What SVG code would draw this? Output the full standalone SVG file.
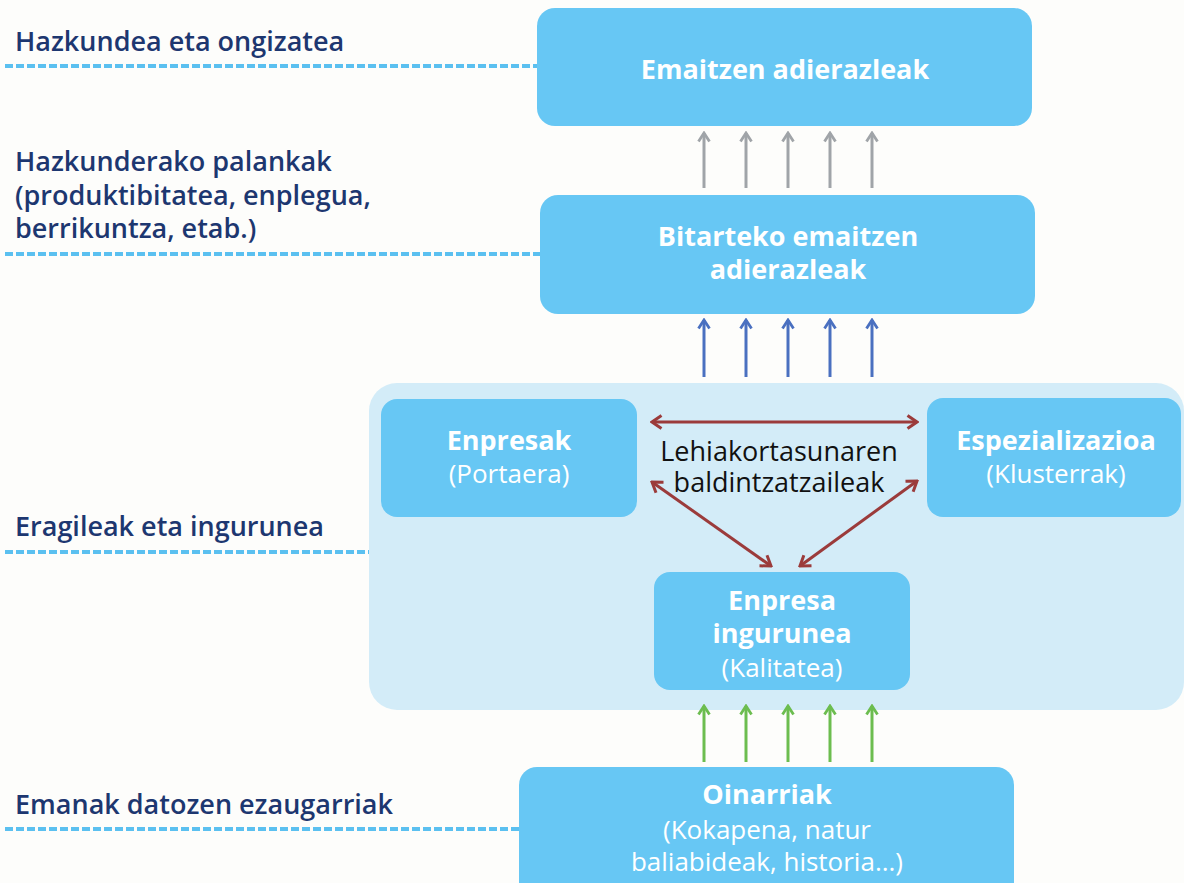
<svg xmlns="http://www.w3.org/2000/svg" width="1184" height="883" viewBox="0 0 1184 883">
<defs>
<style>
.box{fill:#67C7F4}
.bg{fill:#D3ECF8}
.lbl{font-family:"Open Sans","Noto Sans",sans-serif;font-weight:600;font-size:27px;fill:#1D3770}
.dash{stroke:#5BC0F0;stroke-width:4;stroke-dasharray:8 3;fill:none}
.bt{font-family:"Open Sans","Noto Sans",sans-serif;font-weight:700;font-size:27px;fill:#FFFFFF;text-anchor:middle}
.nt{font-family:"Open Sans","Noto Sans",sans-serif;font-weight:400;font-size:26px;fill:#FFFFFF;text-anchor:middle}
.ct{font-family:"Open Sans","Noto Sans",sans-serif;font-size:27px;fill:#111;text-anchor:middle}
.ga{stroke:#A0A4A8;stroke-width:3;fill:none}
.ba{stroke:#4A70C0;stroke-width:3;fill:none}
.gr{stroke:#6CBD4F;stroke-width:3;fill:none}
.ra{stroke:#9B3B3B;stroke-width:3;fill:none}
</style>
<marker id="hg" viewBox="0 0 14 14" refX="12" refY="7" markerWidth="14" markerHeight="14" markerUnits="userSpaceOnUse" orient="auto-start-reverse"><path d="M3.5,1.5 L12,7 L3.5,12.5" fill="none" stroke="#A0A4A8" stroke-width="2.8"/></marker>
<marker id="hb" viewBox="0 0 14 14" refX="12" refY="7" markerWidth="14" markerHeight="14" markerUnits="userSpaceOnUse" orient="auto-start-reverse"><path d="M3.5,1.5 L12,7 L3.5,12.5" fill="none" stroke="#4A70C0" stroke-width="2.8"/></marker>
<marker id="hgr" viewBox="0 0 14 14" refX="12" refY="7" markerWidth="14" markerHeight="14" markerUnits="userSpaceOnUse" orient="auto-start-reverse"><path d="M3.5,1.5 L12,7 L3.5,12.5" fill="none" stroke="#6CBD4F" stroke-width="2.8"/></marker>
<marker id="hr" viewBox="0 0 16 16" refX="14" refY="8" markerWidth="16" markerHeight="16" markerUnits="userSpaceOnUse" orient="auto-start-reverse"><path d="M4.5,1.5 L14,8 L4.5,14.5" fill="none" stroke="#9B3B3B" stroke-width="3"/></marker>
</defs>
<rect width="1184" height="883" fill="#FDFDFB"/>

<g id="levels">
<text class="lbl" x="15" y="51">Hazkundea eta ongizatea</text>
<line class="dash" x1="5" y1="66" x2="537" y2="66"/>
<text class="lbl" x="15" y="171">Hazkunderako palankak</text>
<text class="lbl" x="15" y="205">(produktibitatea, enplegua,</text>
<text class="lbl" x="15" y="238">berrikuntza, etab.)</text>
<line class="dash" x1="5" y1="254" x2="540" y2="254"/>
<text class="lbl" x="15" y="536">Eragileak eta ingurunea</text>
<line class="dash" x1="5" y1="552" x2="369" y2="552"/>
<text class="lbl" x="15" y="814">Emanak datozen ezaugarriak</text>
<line class="dash" x1="5" y1="829" x2="519" y2="829"/>
</g>

<g id="eragileak-bg">
<rect class="bg" x="369" y="383" width="815" height="327" rx="28"/>
</g>

<g id="emaitzen">
<rect class="box" x="537" y="8" width="495" height="118" rx="18"/>
<text class="bt" x="785" y="79">Emaitzen adierazleak</text>
</g>

<g id="bitarteko">
<rect class="box" x="540" y="195" width="495" height="119" rx="18"/>
<text class="bt" x="788" y="246">Bitarteko emaitzen</text>
<text class="bt" x="788" y="279">adierazleak</text>
</g>

<g id="enpresak">
<rect class="box" x="381" y="399" width="256" height="118" rx="16"/>
<text class="bt" x="509" y="450">Enpresak</text>
<text class="nt" x="509" y="483">(Portaera)</text>
</g>

<g id="espezializazioa">
<rect class="box" x="927" y="398" width="254" height="119" rx="16"/>
<text class="bt" x="1056" y="450">Espezializazioa</text>
<text class="nt" x="1056" y="483">(Klusterrak)</text>
</g>

<g id="ingurunea">
<rect class="box" x="654" y="572" width="256" height="118" rx="16"/>
<text class="bt" x="782" y="610">Enpresa</text>
<text class="bt" x="782" y="643">ingurunea</text>
<text class="nt" x="782" y="677">(Kalitatea)</text>
</g>

<g id="oinarriak">
<rect class="box" x="519" y="767" width="495" height="140" rx="18"/>
<text class="bt" x="767" y="804">Oinarriak</text>
<text class="nt" x="767" y="839">(Kokapena, natur</text>
<text class="nt" x="767" y="871">baliabideak, historia...)</text>
</g>

<g id="condition-label">
<text class="ct" x="779" y="461">Lehiakortasunaren</text>
<text class="ct" x="779" y="492">baldintzatzaileak</text>
</g>

<g id="connectors">
<line class="ga" x1="704" y1="188" x2="704" y2="133" marker-end="url(#hg)"/>
<line class="ga" x1="746" y1="188" x2="746" y2="133" marker-end="url(#hg)"/>
<line class="ga" x1="788" y1="188" x2="788" y2="133" marker-end="url(#hg)"/>
<line class="ga" x1="830" y1="188" x2="830" y2="133" marker-end="url(#hg)"/>
<line class="ga" x1="872" y1="188" x2="872" y2="133" marker-end="url(#hg)"/>
<line class="ba" x1="704" y1="377" x2="704" y2="320" marker-end="url(#hb)"/>
<line class="ba" x1="746" y1="377" x2="746" y2="320" marker-end="url(#hb)"/>
<line class="ba" x1="788" y1="377" x2="788" y2="320" marker-end="url(#hb)"/>
<line class="ba" x1="830" y1="377" x2="830" y2="320" marker-end="url(#hb)"/>
<line class="ba" x1="872" y1="377" x2="872" y2="320" marker-end="url(#hb)"/>
<line class="gr" x1="704" y1="762" x2="704" y2="706" marker-end="url(#hgr)"/>
<line class="gr" x1="746" y1="762" x2="746" y2="706" marker-end="url(#hgr)"/>
<line class="gr" x1="788" y1="762" x2="788" y2="706" marker-end="url(#hgr)"/>
<line class="gr" x1="830" y1="762" x2="830" y2="706" marker-end="url(#hgr)"/>
<line class="gr" x1="872" y1="762" x2="872" y2="706" marker-end="url(#hgr)"/>
<line class="ra" x1="652" y1="422" x2="917" y2="422" marker-start="url(#hr)" marker-end="url(#hr)"/>
<line class="ra" x1="652" y1="482" x2="771" y2="566" marker-start="url(#hr)" marker-end="url(#hr)"/>
<line class="ra" x1="917" y1="481" x2="800" y2="566" marker-start="url(#hr)" marker-end="url(#hr)"/>
</g>
</svg>
